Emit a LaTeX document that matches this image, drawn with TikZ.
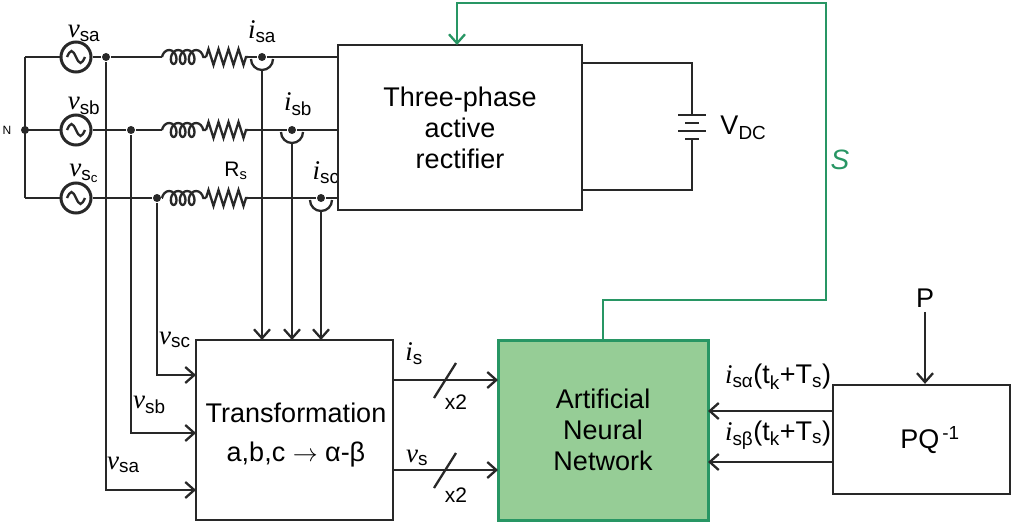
\documentclass[tikz,border=0pt]{standalone}
\usepackage{fontspec}
\setmainfont{Liberation Sans}
\newfontfamily\serifv{Liberation Serif}
\usetikzlibrary{arrows.meta,decorations.pathmorphing,calc}
\definecolor{gline}{RGB}{40,150,100}
\definecolor{gfill}{RGB}{150,205,150}
\definecolor{wire}{RGB}{40,40,40}
\newcommand{\vv}{{\serifv\itshape v}}
\newcommand{\ii}{{\serifv\itshape i}}
\begin{document}
\begin{tikzpicture}[x=1pt,y=-1pt,line width=2.3pt,draw=wire,
  box/.style={draw,line width=2.3pt},
  arr/.style={-{Straight Barb[length=9pt,width=16pt,line width=2.3pt]}},
  dot/.style={circle,fill=wire,inner sep=0pt,minimum size=8pt},
  lbl/.style={font=\fontsize{27}{31}\selectfont},
  sm/.style={font=\fontsize{21}{23}\selectfont},
  src/.style={circle,draw,line width=3pt,minimum size=30pt,inner sep=0pt}]
\useasboundingbox (0,0) rectangle (1019,524);
% neutral
\coordinate (na) at (25,57); \coordinate (nc) at (25,198);
\draw (na) -- (nc);
\node[dot] (N) at (25,130) {};
\node[font=\fontsize{12}{13}\selectfont] at (7,130) {N};
% sources
\foreach \p/\y/\dx/\sx/\lab in {a/57/106/262/\vv\textsubscript{sa}, b/130/131/292/\vv\textsubscript{sb}, c/198/157/321/\vv\textsubscript{s\textsubscript{c}}}{
  \node[src] (s\p) at (76,\y) {};
  \draw[line width=2.3pt] ($(s\p)+(-9,0)$) sin ($(s\p)+(-4.5,-6)$) cos ($(s\p)+(0,0)$) sin ($(s\p)+(4.5,6)$) cos ($(s\p)+(9,0)$);
  \draw (25,\y) -- (s\p.west);
  \node[dot] (d\p) at (\dx,\y) {};
  \draw (s\p.east) -- (d\p) -- (162,\y);
  \draw[decorate,decoration={coil,aspect=0.7,segment length=9pt,amplitude=7pt}] (162,\y) -- (206,\y);
  \draw[decorate,decoration={zigzag,segment length=10pt,amplitude=8pt}] (206,\y) -- (248,\y);
  \node[dot] (c\p) at (\sx,\y) {};
  \draw (248,\y) -- (c\p) -- (338,\y);
  \draw (\sx-11,\y+2) arc (180:0:11);
  \node[lbl,anchor=south,inner sep=1pt] at (84,\y-13) {\lab};
}
\node[lbl,anchor=south,inner sep=1pt] at (262,45) {\ii\textsubscript{sa}};
\node[lbl,anchor=south,inner sep=1pt] at (298,118) {\ii\textsubscript{sb}};
\node[lbl,anchor=south,inner sep=1pt] at (326,186) {\ii\textsubscript{sc}};
\node[sm] at (236,171) {R\textsubscript{s}};
% rectifier
\node[box,minimum width=244pt,minimum height=165pt,align=center,lbl] (rect) at (460,127.5) {Three-phase\\active\\rectifier};
\coordinate (dc1) at (692,63); \coordinate (dc2) at (692,190);
\draw (582,63) -- (dc1) -- (692,115);
\draw (692,143) -- (dc2) -- (582,190);
\draw (678,115) -- (706,115); \draw (685,123) -- (699,123);
\draw (678,131) -- (706,131); \draw (685,139) -- (699,139);
\draw (692,139) -- (692,143);
\node[lbl,anchor=west] at (716,128) {V\textsubscript{DC}};
% transformation
\node[box,minimum width=197pt,minimum height=180pt] (tr) at (294.5,430) {};
\node[lbl] at (296,413) {Transformation};
\node[lbl] at (296,455) {a,b,c $\rightarrow$ α-β};
\draw[arr] (da) -- (106,490) -- (196,490);
\draw[arr] (db) -- (131,433) -- (196,433);
\draw[arr] (dc) -- (157,375) -- (196,375);
\node[lbl,anchor=west,inner sep=0pt] at (158,340) {\vv\textsubscript{sc}};
\node[lbl,anchor=west,inner sep=0pt] at (132,405) {\vv\textsubscript{sb}};
\node[lbl,anchor=west,inner sep=0pt] at (106,465) {\vv\textsubscript{sa}};
\draw[arr] (ca) ++(0,13) -- (262,340);
\draw[arr] (cb) ++(0,13) -- (292,340);
\draw[arr] (cc) ++(0,13) -- (321,340);
% ANN
\node[draw=gline,fill=gfill,line width=3pt,minimum width=210pt,minimum height=180pt,align=center,lbl] (ann) at (603,430) {Artificial\\Neural\\Network};
\draw[arr] (393,380) -- (498,380);
\draw[arr] (393,470) -- (498,470);
\draw (434,398) -- (456,363); \draw (434,488) -- (456,453);
\node[lbl] at (414,354) {\ii\textsubscript{s}};
\node[lbl] at (417,458) {\vv\textsubscript{s}};
\node[sm] at (456,402) {x2};
\node[sm] at (456,495) {x2};
% feedback S
\draw[gline,line width=2.3pt,-{Straight Barb[length=9pt,width=16pt,line width=2.3pt]}] (ann.north) -- (603,300) -- (826,300) -- (826,3) -- (457,3) -- (457,45);
\node[gline,font=\fontsize{28}{30}\selectfont\itshape] at (840,160) {S};
% PQ
\node[box,minimum width=177pt,minimum height=109pt] (pq) at (921.5,439.5) {};
\node[lbl] at (930,440) {PQ\textsuperscript{\,-1}};
\node[lbl] (P) at (925,298) {P};
\draw[arr] (P.south) -- (pq.north -| P.south);
\draw[arr] (833,411) -- (708,411);
\draw[arr] (833,462) -- (708,462);
\node[lbl] at (778,377) {\ii\textsubscript{sα}(t\textsubscript{k}+T\textsubscript{s})};
\node[lbl] at (778,435) {\ii\textsubscript{sβ}(t\textsubscript{k}+T\textsubscript{s})};
\end{tikzpicture}
\end{document}
